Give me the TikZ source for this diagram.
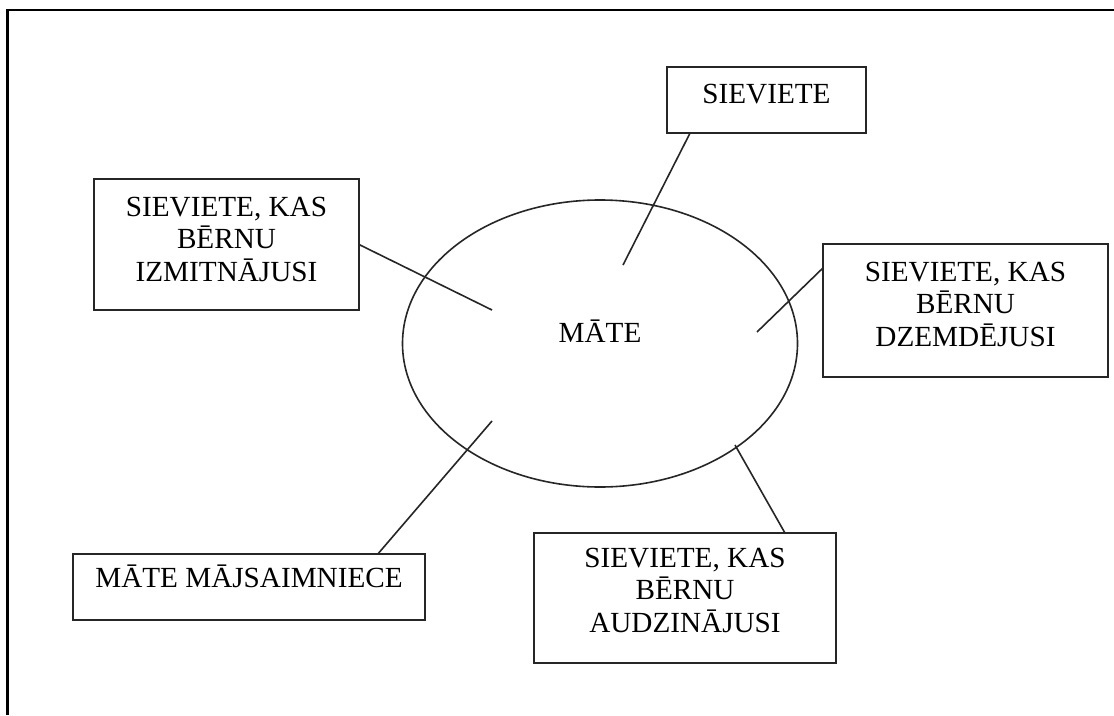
\documentclass[tikz,border=0pt]{standalone}
\usepackage{fontspec}
\setmainfont{Liberation Serif}
\usetikzlibrary{shapes.geometric,calc}

\begin{document}
\begin{tikzpicture}[
    x=1pt, y=-1pt,
    every node/.style={inner sep=0pt, outer sep=0pt},
    frame/.style={line width=2.2pt, black},
    box/.style={draw=black!85, line width=1.9pt, rectangle},
    ring/.style={draw=black!85, line width=1.6pt, ellipse},
    label/.style={font=\fontsize{29.2}{32.5}\selectfont, align=center, anchor=base, text=black},
    link/.style={draw=black!85, line width=1.6pt}
  ]
  \useasboundingbox (0,0) rectangle (1114,715);
  \fill[white] (0,0) rectangle (1114,715);

  % page frame (left and top edges)
  \draw[frame] (7.5,715) -- (7.5,10) -- (1114,10);

  % central ellipse
  \node[ring, minimum width=395pt, minimum height=287pt] (ring) at (600,343.5) {};
  \node[label] (mate) at (600,342) {MĀTE};

  % surrounding boxes
  \node[box, minimum width=265pt, minimum height=131pt] (izm) at (226.5,244.5) {};
  \node[box, minimum width=199pt, minimum height=66pt]  (siev) at (766.5,100) {};
  \node[box, minimum width=285pt, minimum height=133pt] (dzem) at (965.5,310.5) {};
  \node[box, minimum width=302pt, minimum height=130pt] (audz) at (685,598) {};
  \node[box, minimum width=352pt, minimum height=66pt]  (maj) at (249,587) {};

  % box texts (base anchor sits on the last line)
  \node[label] (izmtxt)  at (226.5,281) {SIEVIETE, KAS\\BĒRNU\\IZMITNĀJUSI};
  \node[label] (sievtxt) at (766.5,103) {SIEVIETE};
  \node[label] (dzemtxt) at (965.5,346) {SIEVIETE, KAS\\BĒRNU\\DZEMDĒJUSI};
  \node[label] (audztxt) at (685,632)   {SIEVIETE, KAS\\BĒRNU\\AUDZINĀJUSI};
  \node[label] (majtxt)  at (249,587)   {MĀTE MĀJSAIMNIECE};

  % free ends of the connectors inside the ellipse
  \coordinate (e-izm)  at (492,310);
  \coordinate (e-siev) at (623,265);
  \coordinate (e-dzem) at (757,332);
  \coordinate (e-maj)  at (492,421);
  \coordinate (e-audz) at (735,445);

  % connectors
  \draw[link] (izm.east) -- (e-izm);
  \draw[link] ($(siev.south west)!0.116!(siev.south east)$) -- (e-siev);
  \draw[link] ($(dzem.north west)!0.18!(dzem.south west)$) -- (e-dzem);
  \draw[link] ($(maj.north west)!0.866!(maj.north east)$) -- (e-maj);
  \draw[link] ($(audz.north west)!0.831!(audz.north east)$) -- (e-audz);
\end{tikzpicture}
\end{document}
